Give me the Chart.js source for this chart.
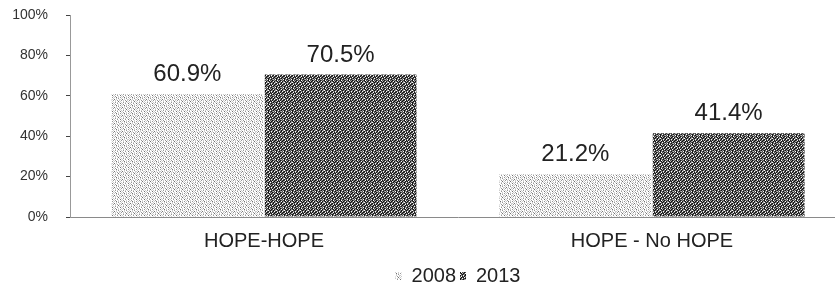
<!DOCTYPE html>
<html>
<head>
<meta charset="utf-8">
<script src="https://cdn.jsdelivr.net/npm/chart.js@4/dist/chart.umd.min.js"></script>
<style>
  html, body { margin: 0; padding: 0; background: #fff; overflow: hidden; }
</style>
</head>
<body>
<canvas id="hope-chart" width="846" height="296"></canvas>
<script>
// chart data
var categories = ['HOPE-HOPE', 'HOPE - No HOPE'];
var seriesNames = ['2008', '2013'];
var values2008 = [60.9, 21.2];
var values2013 = [70.5, 41.4];
var yTickValues = [0, 20, 40, 60, 80, 100];

var fontFamily = '"Liberation Sans", Arial, sans-serif';

// dithered fills, like the scanned original
function makePattern(rows, colors) {
    var c = document.createElement('canvas');
    c.width = rows[0].length;
    c.height = rows.length;
    var g = c.getContext('2d');
    for (var y = 0; y < rows.length; y++) {
        for (var x = 0; x < rows[y].length; x++) {
            g.fillStyle = colors[rows[y][x]];
            g.fillRect(x, y, 1, 1);
        }
    }
    return g.createPattern(c, 'repeat');
}

var lightFill = makePattern([
    'wawbwwaw',
    'bwawcwaw',
    'wawwawbw',
    'awcwawwa',
    'wbwawbwa',
    'awwawwcw',
    'wawbwawa',
    'cwawwbww'
], { w: '#ffffff', a: '#cccccc', b: '#999999', c: '#737373' });

var darkFill = makePattern([
    'kdmdkwdm',
    'dwkmdkgk',
    'mkdgwdkd',
    'dkwdkmdw',
    'kmdkdwkm',
    'wdkmgkdk',
    'dkmdkdwd',
    'mgdwkmdk'
], { k: '#121212', d: '#4d4d4d', m: '#8f8f8f', g: '#bbbbbb', w: '#ffffff' });

// value labels above the bars
var valueLabels = {
    id: 'valueLabels',
    afterDatasetsDraw: function(chart) {
        var ctx = chart.ctx;
        ctx.save();
        ctx.font = '24px ' + fontFamily;
        ctx.fillStyle = '#222';
        ctx.textAlign = 'center';
        ctx.textBaseline = 'alphabetic';
        chart.data.datasets.forEach(function(ds, i) {
            chart.getDatasetMeta(i).data.forEach(function(bar, j) {
                ctx.fillText(ds.data[j].toFixed(1) + '%', bar.x, bar.y - 13);
            });
        });
        ctx.restore();
    }
};

var ctx = document.getElementById('hope-chart');

var config = {
    type: 'bar',
    data: {
        labels: categories,
        datasets: [{
            label: seriesNames[0],
            data: values2008,
            backgroundColor: lightFill,
            categoryPercentage: 0.79,
            barPercentage: 0.99
        }, {
            label: seriesNames[1],
            data: values2013,
            backgroundColor: darkFill,
            categoryPercentage: 0.79,
            barPercentage: 0.99
        }]
    },
    options: {
        responsive: false,
        animation: false,
        layout: { padding: { left: 12, top: 15, right: 0, bottom: 0 } },
        scales: {
            x: {
                grid: { drawOnChartArea: false, drawTicks: false },
                border: { display: true, color: '#8a8a8a', dash: [3, 1] },
                ticks: {
                    color: '#222',
                    font: { family: fontFamily, size: 20 },
                    padding: 12
                },
                afterFit: function(axis) { axis.height = 45; }
            },
            y: {
                min: 0,
                max: 100,
                afterBuildTicks: function(axis) {
                    axis.ticks = yTickValues.map(function(v) { return { value: v }; });
                },
                ticks: {
                    color: '#333',
                    font: { family: fontFamily, size: 14 },
                    padding: 18,
                    callback: function(v) { return v + '%'; }
                },
                grid: { drawOnChartArea: false, tickLength: 4, color: '#444' },
                border: { display: true, color: '#999', dash: [1, 3] },
                afterFit: function(axis) {
                    axis.width = 58;
                    axis.paddingTop = 0;
                    axis.paddingBottom = 0;
                }
            }
        },
        plugins: {
            legend: {
                position: 'bottom',
                fullSize: false,
                labels: {
                    color: '#222',
                    boxWidth: 6,
                    boxHeight: 8,
                    padding: 4,
                    font: { family: fontFamily, size: 20 }
                }
            },
            tooltip: { enabled: false }
        }
    },
    plugins: [valueLabels]
};

var hopeChart = new Chart(ctx, config);
</script>
</body>
</html>
